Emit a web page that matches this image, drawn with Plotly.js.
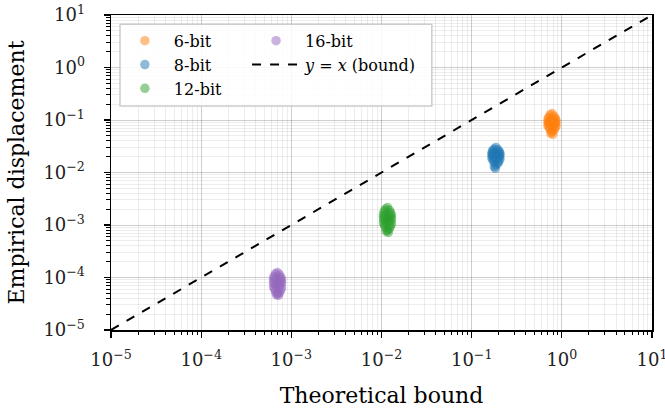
<!DOCTYPE html>
<html>
<head>
<meta charset="utf-8">
<script src="https://cdn.plot.ly/plotly-3.0.1.min.js"></script>
<style>html,body{margin:0;padding:0;background:#fff;}#chart{width:665px;height:410px;}</style>
</head>
<body>
<div id="chart"></div>
<script>
// 6-bit
const x6 = [0.778,0.739,0.819,0.716,0.845,0.702,0.863,0.731,0.828,0.702,0.863,0.778,0.709,0.854,0.746,0.811,0.702,0.863,0.724,0.836,0.739,0.819,0.778,0.754,0.794];
const y6 = [0.133,0.125,0.118,0.112,0.108,0.104,0.100,0.097,0.094,0.092,0.090,0.088,0.086,0.084,0.082,0.080,0.078,0.076,0.073,0.070,0.067,0.064,0.060,0.056,0.053];
// 8-bit
const x8 = [0.186,0.177,0.196,0.171,0.202,0.168,0.206,0.175,0.198,0.168,0.206,0.186,0.169,0.204,0.178,0.194,0.168,0.206,0.173,0.200,0.177,0.196,0.186,0.178,0.183];
const y8 = [0.030,0.028,0.027,0.026,0.025,0.024,0.0235,0.023,0.0225,0.022,0.0215,0.021,0.0205,0.020,0.0195,0.019,0.0185,0.018,0.0172,0.0165,0.0158,0.015,0.014,0.013,0.012];
// 12-bit
const x12 = [0.01164,0.01106,0.01226,0.01071,0.01264,0.01050,0.01291,0.01094,0.01238,0.01050,0.01291,0.01164,0.01060,0.01278,0.01116,0.01213,0.01050,0.01291,0.01083,0.01251,0.01106,0.01226,0.01164,0.01128,0.01188];
const y12 = [0.00215,0.0020,0.0019,0.0018,0.0017,0.0016,0.00155,0.0015,0.00145,0.0014,0.00135,0.0013,0.00126,0.00122,0.00118,0.00114,0.0011,0.00105,0.0010,0.00095,0.0009,0.00085,0.0008,0.00076,0.00072];
// 16-bit
const x16 = [0.000703,0.000668,0.000740,0.000647,0.000763,0.000634,0.000780,0.000661,0.000748,0.000634,0.000780,0.000703,0.000640,0.000772,0.000674,0.000733,0.000634,0.000780,0.000654,0.000756,0.000668,0.000740,0.000703,0.000681,0.000718];
const y16 = [0.000125,0.000118,0.000112,0.000106,0.000101,0.000097,0.000093,0.000090,0.000087,0.000084,0.000081,0.000078,0.000076,0.000074,0.000071,0.000068,0.000066,0.000063,0.000060,0.000057,0.000054,0.000051,0.000049,0.000047,0.0000454];
// bound line y = x
const xLine = [1e-5, 10];
const yLine = [1e-5, 10];
// tick labels
const tickVals = [1e-5, 1e-4, 1e-3, 1e-2, 1e-1, 1, 10];
const tickText = ['10<sup>−5</sup>','10<sup>−4</sup>','10<sup>−3</sup>','10<sup>−2</sup>','10<sup>−1</sup>','10<sup>0</sup>','10<sup>1</sup>'];

const labels = ['6-bit','8-bit','12-bit','16-bit'];
const colors = ['#ff7f0e','#1f77b4','#2ca02c','#9467bd'];
const legendOf = ['legend','legend','legend','legend2'];
const xs = [x6, x8, x12, x16];
const ys = [y6, y8, y12, y16];

const font = 'DejaVu Serif, serif';
const traces = xs.map((x, i) => ({
  type: 'scatter', mode: 'markers', x: x, y: ys[i], name: labels[i],
  legend: legendOf[i],
  marker: {color: colors[i], size: 9.5, opacity: 0.5, line: {width: 0}}
}));
traces.push({
  type: 'scatter', mode: 'lines', x: xLine, y: yLine,
  name: '<i>y</i> = <i>x</i> (bound)', legend: 'legend2',
  line: {color: '#000', width: 2, dash: 'dash'}
});

const axisCommon = {
  type: 'log', tickmode: 'array', tickvals: tickVals, ticktext: tickText,
  showline: true, mirror: true, linecolor: '#000', linewidth: 1.5,
  ticks: 'outside', ticklen: 6, tickwidth: 1.2, tickcolor: '#000',
  showgrid: true, gridcolor: 'rgba(0,0,0,0.13)', gridwidth: 1,
  zeroline: false, ticklabeloverflow: 'allow',
  tickfont: {family: font, size: 18, color: '#222'},
  minor: {dtick: 'D1', ticks: 'outside', ticklen: 3.5, tickwidth: 1, tickcolor: '#000',
          showgrid: true, gridcolor: 'rgba(0,0,0,0.07)', gridwidth: 1}
};

const legendCommon = {
  xanchor: 'left', yanchor: 'top', orientation: 'v',
  bgcolor: 'rgba(0,0,0,0)', borderwidth: 0, itemwidth: 48,
  font: {family: font, size: 16, color: '#000'}
};

const layout = {
  width: 665, height: 410,
  margin: {l: 111, r: 13, t: 15, b: 80},
  paper_bgcolor: '#fff', plot_bgcolor: '#fff',
  showlegend: true,
  xaxis: Object.assign({}, axisCommon, {range: [-5, 1], ticklabelstandoff: 7,
    title: {text: 'Theoretical bound', font: {family: font, size: 22, color: '#000'}, standoff: 18}}),
  yaxis: Object.assign({}, axisCommon, {range: [-5, 1], ticklabelstandoff: 15,
    title: {text: 'Empirical displacement', font: {family: font, size: 22, color: '#000'}, standoff: 12}}),
  legend: Object.assign({}, legendCommon, {x: 0.009, y: 0.972}),
  legend2: Object.assign({}, legendCommon, {x: 0.2515, y: 0.972}),
  shapes: [{
    type: 'rect', xref: 'paper', yref: 'paper', layer: 'above',
    x0: 0.0166, x1: 0.593, y0: 0.711, y1: 0.971,
    fillcolor: 'rgba(255,255,255,0.85)', line: {color: '#cccccc', width: 1.5}
  }]
};

Plotly.newPlot('chart', traces, layout, {displayModeBar: false, staticPlot: true});
</script>
</body>
</html>
